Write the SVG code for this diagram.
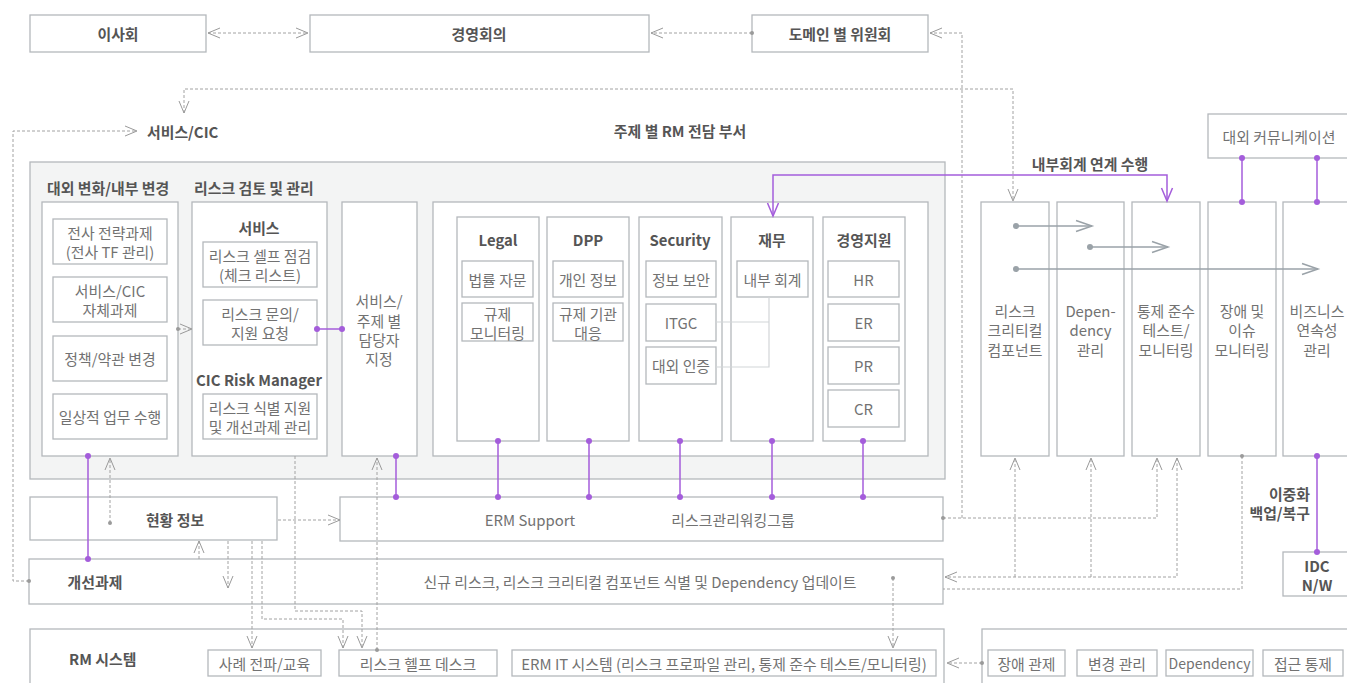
<svg xmlns="http://www.w3.org/2000/svg" width="1347" height="683" viewBox="0 0 1347 683">
<style>
.bx{fill:#fff;stroke:#b4b8bc;stroke-width:1.3}
.pn{fill:#f3f4f4;stroke:#b4b8bc;stroke-width:1.3}
text{font-family:"Noto Sans CJK KR","Noto Sans",sans-serif;font-size:14.9px;fill:#727272;text-anchor:middle;dominant-baseline:central}
.b{font-weight:bold;fill:#555}
.l{text-anchor:start}
.r{text-anchor:end}
.sm{font-size:14px}
.dt{fill:none;stroke:#a2a2a2;stroke-width:1;stroke-dasharray:3 2}
.pu{fill:none;stroke:#a45ddb;stroke-width:1.5}
.sg{fill:none;stroke:#9aa2a8;stroke-width:1.5}
.lg{fill:none;stroke:#d2d5d8;stroke-width:1.2}
</style>
<defs>
<marker id="ag" markerUnits="userSpaceOnUse" markerWidth="16" markerHeight="14" refX="13" refY="7" orient="auto-start-reverse"><path d="M1,2 L13,7 L1,12" fill="none" stroke="#9a9a9a" stroke-width="1"/></marker>
<marker id="ap" markerUnits="userSpaceOnUse" markerWidth="16" markerHeight="14" refX="14" refY="7" orient="auto-start-reverse"><path d="M1,1.5 L14,7 L1,12.5" fill="none" stroke="#a45ddb" stroke-width="1.5"/></marker>
<marker id="as" markerUnits="userSpaceOnUse" markerWidth="20" markerHeight="14" refX="17" refY="7" orient="auto"><path d="M1,1.5 L17,7 L1,12.5" fill="none" stroke="#9aa2a8" stroke-width="1.5"/></marker>
<marker id="dp" markerUnits="userSpaceOnUse" markerWidth="8" markerHeight="8" refX="4" refY="4"><circle cx="4" cy="4" r="3" fill="#a45ddb"/></marker>
<marker id="dg" markerUnits="userSpaceOnUse" markerWidth="8" markerHeight="8" refX="4" refY="4"><circle cx="4" cy="4" r="2" fill="#9a9a9a"/></marker>
<marker id="ds" markerUnits="userSpaceOnUse" markerWidth="8" markerHeight="8" refX="4" refY="4"><circle cx="4" cy="4" r="3" fill="#9aa2a8"/></marker>
</defs>

<g id="top-boards">
<g id="n-board"><rect class="bx" x="30" y="15" width="176" height="37"/><text class="b" x="118" y="33.5">이사회</text></g>
<g id="n-exec"><rect class="bx" x="310" y="15" width="339" height="37"/><text class="b" x="479" y="33.5">경영회의</text></g>
<g id="n-domain"><rect class="bx" x="752" y="15" width="176" height="37"/><text class="b" x="840" y="33.5">도메인 별 위원회</text></g>
</g>

<g id="labels">
<text class="b l" x="147" y="131">서비스/CIC</text>
<text class="b" x="680" y="130">주제 별 RM 전담 부서</text>
<text class="b" x="1090" y="163">내부회계 연계 수행</text>
<text class="b r" x="1310" y="493">이중화</text>
<text class="b r" x="1310" y="512">백업/복구</text>
</g>

<g id="n-panel">
<rect class="pn" x="30" y="162" width="915" height="317"/>
<text class="b l" x="47" y="187">대외 변화/내부 변경</text>
<text class="b l" x="194" y="187">리스크 검토 및 관리</text>
</g>

<g id="n-change">
<rect class="bx" x="42" y="202" width="136" height="254"/>
<rect class="bx" x="53" y="219" width="114" height="45"/><text x="110" y="232">전사 전략과제</text><text x="110" y="251">(전사 TF 관리)</text>
<rect class="bx" x="53" y="277" width="114" height="45"/><text x="110" y="290">서비스/CIC</text><text x="110" y="309">자체과제</text>
<rect class="bx" x="53" y="336" width="114" height="45"/><text x="110" y="358.5">정책/약관 변경</text>
<rect class="bx" x="53" y="394" width="114" height="45"/><text x="110" y="416.5">일상적 업무 수행</text>
</g>

<g id="n-review">
<rect class="bx" x="192" y="202" width="135" height="254"/>
<text class="b" x="259" y="227">서비스</text>
<rect class="bx" x="203" y="242" width="114" height="45"/><text x="260" y="255">리스크 셀프 점검</text><text x="260" y="274">(체크 리스트)</text>
<rect class="bx" x="203" y="300" width="114" height="45"/><text x="260" y="313">리스크 문의/</text><text x="260" y="332">지원 요청</text>
<text class="b" x="259" y="379">CIC Risk Manager</text>
<rect class="bx" x="203" y="394" width="114" height="45"/><text x="260" y="407">리스크 식별 지원</text><text x="260" y="426">및 개선과제 관리</text>
</g>

<g id="n-assign">
<rect class="bx" x="342" y="202" width="75" height="254"/>
<text x="379" y="300">서비스/</text><text x="379" y="320">주제 별</text><text x="379" y="339">담당자</text><text x="379" y="358">지정</text>
</g>

<g id="n-dept">
<rect class="bx" x="433" y="202" width="495" height="254"/>
<g id="n-legal"><rect class="bx" x="457" y="217" width="82" height="224"/><text class="b" x="498" y="239">Legal</text>
<rect class="bx" x="462" y="261" width="71" height="36"/><text x="497.5" y="279">법률 자문</text>
<rect class="bx" x="462" y="303" width="71" height="38"/><text x="497.5" y="313">규제</text><text x="497.5" y="332">모니터링</text></g>
<g id="n-dpp"><rect class="bx" x="547" y="217" width="82" height="224"/><text class="b" x="588" y="239">DPP</text>
<rect class="bx" x="553" y="261" width="70" height="36"/><text x="588" y="279">개인 정보</text>
<rect class="bx" x="553" y="303" width="70" height="38"/><text x="588" y="313">규제 기관</text><text x="588" y="332">대응</text></g>
<g id="n-sec"><rect class="bx" x="639" y="217" width="83" height="224"/><text class="b" x="680" y="239">Security</text>
<rect class="bx" x="646" y="261" width="70" height="36"/><text x="681" y="279">정보 보안</text>
<rect class="bx" x="646" y="304" width="70" height="37"/><text x="681" y="322.5">ITGC</text>
<rect class="bx" x="646" y="347" width="70" height="37"/><text x="681" y="365.5">대외 인증</text></g>
<g id="n-fin"><rect class="bx" x="731" y="217" width="82" height="224"/><text class="b" x="772" y="239">재무</text>
<rect class="bx" x="737" y="261" width="71" height="36"/><text x="772.5" y="279">내부 회계</text></g>
<g id="n-mgmt"><rect class="bx" x="823" y="217" width="82" height="224"/><text class="b" x="864" y="239">경영지원</text>
<rect class="bx" x="828" y="261" width="71" height="36"/><text x="863.5" y="279">HR</text>
<rect class="bx" x="828" y="304" width="71" height="37"/><text x="863.5" y="322.5">ER</text>
<rect class="bx" x="828" y="347" width="71" height="37"/><text x="863.5" y="365.5">PR</text>
<rect class="bx" x="828" y="390" width="71" height="37"/><text x="863.5" y="408.5">CR</text></g>
</g>

<g id="n-right">
<g id="n-comm"><rect class="bx" x="1208" y="114" width="143" height="44"/><text x="1279" y="136">대외 커뮤니케이션</text></g>
<g id="n-crit"><rect class="bx" x="981" y="202" width="68" height="254"/><text x="1015" y="310">리스크</text><text x="1015" y="329">크리티컬</text><text x="1015" y="349">컴포넌트</text></g>
<g id="n-dep"><rect class="bx" x="1057" y="202" width="67" height="254"/><text x="1090.5" y="310">Depen-</text><text x="1090.5" y="329">dency</text><text x="1090.5" y="349">관리</text></g>
<g id="n-comp"><rect class="bx" x="1132" y="202" width="68" height="254"/><text x="1166" y="310">통제 준수</text><text x="1166" y="329">테스트/</text><text x="1166" y="349">모니터링</text></g>
<g id="n-issue"><rect class="bx" x="1208" y="202" width="68" height="254"/><text x="1242" y="310">장애 및</text><text x="1242" y="329">이슈</text><text x="1242" y="349">모니터링</text></g>
<g id="n-bcp"><rect class="bx" x="1283" y="202" width="68" height="254"/><text x="1317" y="310">비즈니스</text><text x="1317" y="329">연속성</text><text x="1317" y="349">관리</text></g>
<g id="n-idc"><rect class="bx" x="1283" y="552" width="68" height="44"/><text class="b" x="1317" y="565">IDC</text><text class="b" x="1317" y="584">N/W</text></g>
</g>

<g id="n-status"><rect class="bx" x="30" y="497" width="247" height="43"/><text class="b" x="175" y="519">현황 정보</text></g>
<g id="n-erm"><rect class="bx" x="340" y="497" width="603" height="44"/><text x="530" y="519">ERM Support</text><text x="733" y="519">리스크관리워킹그룹</text></g>
<g id="n-improve"><rect class="bx" x="29" y="559" width="914" height="45"/><text class="b" x="95" y="581">개선과제</text><text x="640" y="581">신규 리스크, 리스크 크리티컬 컴포넌트 식별 및 Dependency 업데이트</text></g>
<g id="n-rmsys">
<rect class="bx" x="30" y="629" width="914" height="64"/>
<text class="b l" x="69" y="658">RM 시스템</text>
<rect class="bx" x="208" y="650" width="113" height="26"/><text x="264.5" y="663">사례 전파/교육</text>
<rect class="bx" x="339" y="650" width="158" height="26"/><text x="418" y="663">리스크 헬프 데스크</text>
<rect class="bx" x="512" y="650" width="424" height="26"/><text x="724" y="663">ERM IT 시스템 (리스크 프로파일 관리, 통제 준수 테스트/모니터링)</text>
</g>
<g id="n-ops">
<rect class="bx" x="982" y="629" width="370" height="64"/>
<rect class="bx" x="988" y="650" width="77" height="26"/><text x="1026.5" y="663">장애 관제</text>
<rect class="bx" x="1077" y="650" width="80" height="26"/><text x="1117" y="663">변경 관리</text>
<rect class="bx" x="1166" y="650" width="87" height="26"/><text class="sm" x="1209.5" y="663">Dependency</text>
<rect class="bx" x="1263" y="650" width="80" height="26"/><text x="1303" y="663">접근 통제</text>
</g>

<g id="connectors">
<path class="dt" d="M208,33 H308" marker-start="url(#ag)" marker-end="url(#ag)"/>
<path class="dt" d="M752,33 H651" marker-start="url(#dg)" marker-end="url(#ag)"/>
<path class="dt" d="M962,518 V33 H930" marker-end="url(#ag)"/>
<path class="dt" d="M943,518 H1157 V458" marker-start="url(#dg)" marker-end="url(#ag)"/>
<path class="dt" d="M184,113 V89 H1013 V201" marker-start="url(#ag)" marker-end="url(#ag)"/>
<path class="dt" d="M29,581 H13 V131 H137" marker-start="url(#dg)" marker-end="url(#ag)"/>
<path class="dt" d="M1177,458 V577 H945" marker-start="url(#ag)" marker-end="url(#ag)"/>
<path class="dt" d="M1015,577 V458" marker-end="url(#ag)"/>
<path class="dt" d="M1091,577 V458" marker-end="url(#ag)"/>
<path class="dt" d="M1242,456 V589 H943" marker-start="url(#dg)"/>
<path class="dt" d="M178,329 H192" marker-start="url(#dg)" marker-end="url(#ag)"/>
<path class="dt" d="M278,520 H340" marker-end="url(#ag)"/>
<path class="dt" d="M110,523 V458" marker-start="url(#dg)" marker-end="url(#ag)"/>
<path class="dt" d="M199,559 V541" marker-end="url(#ag)"/>
<path class="dt" d="M228,541 V588" marker-end="url(#ag)"/>
<path class="dt" d="M252,541 V648" marker-end="url(#ag)"/>
<path class="dt" d="M262,541 V619 H343 V648" marker-end="url(#ag)"/>
<path class="dt" d="M295,456 V611 H362 V648" marker-end="url(#ag)"/>
<path class="dt" d="M377,650 V458" marker-start="url(#dg)" marker-end="url(#ag)"/>
<path class="dt" d="M893,578 V648" marker-start="url(#dg)" marker-end="url(#ag)"/>
<path class="dt" d="M982,663 H947" marker-start="url(#dg)" marker-end="url(#ag)"/>

<path class="lg" d="M716,322 H769 V297 M716,367 H769 V322"/>

<path class="sg" d="M1016,226 H1092" marker-start="url(#ds)" marker-end="url(#as)"/>
<path class="sg" d="M1090,247 H1168" marker-start="url(#ds)" marker-end="url(#as)"/>
<path class="sg" d="M1016,269 H1318" marker-start="url(#ds)" marker-end="url(#as)"/>

<path class="pu" d="M88,456 V559" marker-start="url(#dp)" marker-end="url(#dp)"/>
<path class="pu" d="M317,329 H342" marker-start="url(#dp)" marker-end="url(#dp)"/>
<path class="pu" d="M396,456 V497" marker-start="url(#dp)" marker-end="url(#dp)"/>
<path class="pu" d="M498,441 V497" marker-start="url(#dp)" marker-end="url(#dp)"/>
<path class="pu" d="M589,441 V497" marker-start="url(#dp)" marker-end="url(#dp)"/>
<path class="pu" d="M680,441 V497" marker-start="url(#dp)" marker-end="url(#dp)"/>
<path class="pu" d="M772,441 V497" marker-start="url(#dp)" marker-end="url(#dp)"/>
<path class="pu" d="M863,441 V497" marker-start="url(#dp)" marker-end="url(#dp)"/>
<path class="pu" d="M773,216 V175 H1167 V201" marker-start="url(#ap)" marker-end="url(#ap)"/>
<path class="pu" d="M1242,158 V202" marker-start="url(#dp)" marker-end="url(#dp)"/>
<path class="pu" d="M1317,158 V202" marker-start="url(#dp)" marker-end="url(#dp)"/>
<path class="pu" d="M1317,456 V552" marker-start="url(#dp)" marker-end="url(#dp)"/>
</g>
</svg>
